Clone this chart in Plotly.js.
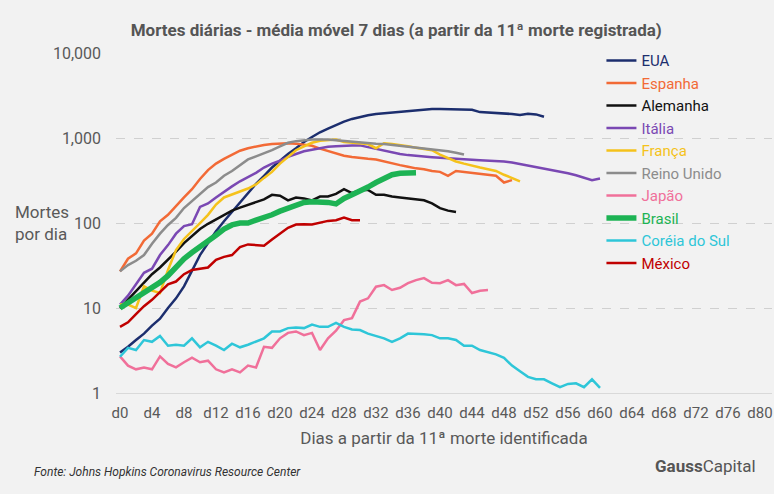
<!DOCTYPE html>
<html>
<head>
<meta charset="utf-8">
<script src="https://cdn.plot.ly/plotly-3.0.1.min.js"></script>
<style>
  html, body { margin: 0; padding: 0; background: #F2F2F2; }
  #chart { width: 774px; height: 494px; }
</style>
</head>
<body>
<div id="chart"></div>
<script>
// ---- Data (7-day moving average of daily deaths, from 11th death) ----
const tickDays = [0,4,8,12,16,20,24,28,32,36,40,44,48,52,56,60,64,68,72,76,80];
const tickLabels = ["d0","d4","d8","d12","d16","d20","d24","d28","d32","d36","d40","d44","d48","d52","d56","d60","d64","d68","d72","d76","d80"];

const eua = [3.0,3.5,4.2,5.0,6.2,7.5,10,13,18,27,42,58,80,105,135,178,230,290,360,450,540,650,760,900,1030,1170,1290,1420,1560,1680,1780,1860,1920,1960,2000,2030,2060,2120,2150,2200,2200,2180,2150,2150,2150,2020,2000,1980,1960,1920,1870,1930,1900,1780];
const espanha = [27,38,44,62,75,105,125,160,200,250,330,420,500,570,640,710,760,800,830,850,865,870,860,840,810,750,700,660,620,600,580,570,560,530,500,480,460,440,430,410,400,360,410,400,390,380,370,360,300,320];
const alemanha = [10,12.5,16,20,25,30,37,46,58,70,85,98,110,125,140,152,163,175,190,215,210,185,200,195,185,205,205,220,250,225,245,245,215,215,205,200,195,188,185,170,150,140,135];
const italia = [11,14,19,26,29,42,55,75,92,97,155,170,200,235,270,310,345,390,450,500,540,600,650,700,730,760,790,800,815,820,820,780,750,710,680,650,630,615,605,595,585,575,570,560,555,550,545,540,530,515,495,470,455,440,420,400,385,365,345,320,335];
const franca = [11,11,10,18,16,15,28,48,65,80,100,125,165,200,215,235,255,285,340,400,500,600,720,800,880,930,950,960,900,880,870,850,760,870,850,830,800,770,740,720,640,580,530,500,470,450,430,410,370,340,310];
const reinoUnido = [27,32,36,42,57,75,95,115,150,180,220,265,300,360,410,480,560,610,660,720,800,880,920,940,960,960,960,940,920,900,880,870,860,850,830,800,790,770,750,740,720,700,670,640];
const japao = [2.7,2.1,1.9,2.0,1.9,2.7,2.2,2.0,2.3,2.6,2.3,2.4,1.9,1.75,1.9,1.75,2.1,2.0,3.5,3.4,4.4,5.1,5.3,4.8,5.1,3.2,4.4,5.4,7.2,7.6,11.9,13,17.8,18.6,16.3,17.3,19.6,21.3,22.5,19.8,19.6,21.3,18.6,19.2,15,16,16.3];
const brasil = [10,11.5,13,15.5,17.5,20,24,31,38,45,52,60,72,85,95,100,100,108,115,125,138,148,160,175,178,178,175,168,195,215,235,265,300,340,370,385,390,390];
const coreia = [2.67,3.4,3.2,4.2,4.0,4.7,3.6,3.7,3.6,4.4,3.45,4.0,3.6,3.2,3.8,3.45,3.7,4.0,4.4,5.3,5.3,5.8,5.9,5.8,6.4,6.0,6.0,6.7,6.0,5.6,5.5,5.0,4.7,4.4,4.0,4.4,5.0,5.0,4.9,4.8,4.4,4.4,4.2,3.6,3.6,3.2,3.0,2.85,2.6,2.1,1.8,1.55,1.45,1.45,1.3,1.17,1.28,1.3,1.17,1.45,1.15];
const mexico = [6.0,6.8,8.5,10.5,12.5,15.5,19,20.5,25,28,29,30,37,40,42,52,56,55,54,64,75,88,96,97,96,100,106,108,116,108,108];

const seriesNames = ["EUA","Espanha","Alemanha","Itália","França","Reino Unido","Japão","Brasil","Coréia do Sul","México"];
const seriesData = [eua, espanha, alemanha, italia, franca, reinoUnido, japao, brasil, coreia, mexico];
const seriesColors = ["#1C2E6E","#F26A36","#111111","#7A48B3","#F5C21B","#8C8C8C","#F0709A","#1DB354","#2EC6D8","#C00000"];
const seriesWidths = [2.5,2.5,2.5,2.5,2.5,2.5,2.5,5.5,2.5,2.5];

const FONT = "Roboto, 'Noto Sans', sans-serif";
const TXT = "#595959";

const traces = seriesData.map((vals, k) => ({
  type: "scatter",
  mode: "lines",
  x: vals.map((_, i) => i),
  y: vals,
  name: '<span style="color:' + seriesColors[k] + '">' + seriesNames[k] + '</span>',
  line: { color: seriesColors[k], width: seriesWidths[k] },
  hoverinfo: "x+y+name"
}));

const layout = {
  width: 774,
  height: 494,
  paper_bgcolor: "#F2F2F2",
  plot_bgcolor: "#F2F2F2",
  margin: { l: 116, r: 2, t: 53, b: 101 },
  font: { family: FONT, color: TXT, size: 14 },
  title: {
    text: "<b>Mortes diárias - média móvel 7 dias (a partir da 11ª morte registrada)</b>",
    font: { family: FONT, size: 17, color: "#555555" },
    xref: "container", x: 0.512, xanchor: "center",
    yref: "container", y: 0.939, yanchor: "middle"
  },
  xaxis: {
    range: [-0.5, 81.5],
    tickmode: "array",
    tickvals: tickDays,
    ticktext: tickLabels,
    showgrid: false,
    zeroline: false,
    showline: true,
    linecolor: "#D9D9D9",
    linewidth: 1,
    ticks: "",
    ticklabelstandoff: 6,
    tickfont: { family: FONT, size: 15, color: TXT },
    title: {
      text: "Dias a partir da 11ª morte identificada",
      font: { family: FONT, size: 17, color: TXT },
      standoff: 11
    }
  },
  yaxis: {
    type: "log",
    range: [0, 4.001],
    tickmode: "array",
    tickvals: [1, 10, 100, 1000, 10000],
    ticktext: ["1", "10", "100", "1,000", "10,000"],
    showgrid: true,
    gridcolor: "#D0D0D0",
    griddash: "dash",
    gridwidth: 1,
    zeroline: false,
    showline: false,
    ticks: "",
    ticklabelstandoff: 14,
    tickfont: { family: FONT, size: 16, color: TXT }
  },
  legend: {
    x: 0.74, xanchor: "left",
    y: 1.026, yanchor: "top",
    bgcolor: "rgba(0,0,0,0)",
    font: { family: FONT, size: 15 },
    tracegroupgap: 0,
    itemwidth: 30
  },
  showlegend: true,
  annotations: [
    {
      xref: "paper", yref: "paper",
      x: (13 - 116) / 656, y: 0.5,
      xanchor: "left", yanchor: "middle", align: "left",
      text: "Mortes<br>por dia",
      showarrow: false,
      font: { family: FONT, size: 17, color: TXT }
    },
    {
      xref: "paper", yref: "paper",
      x: (32 - 116) / 656, y: (393 - 472) / 340,
      xanchor: "left", yanchor: "middle",
      text: "<i>Fonte: Johns Hopkins Coronavirus Resource Center</i>",
      showarrow: false,
      font: { family: FONT, size: 12, color: "#333333" }
    },
    {
      xref: "paper", yref: "paper",
      x: (758 - 116) / 656, y: (393 - 466) / 340,
      xanchor: "right", yanchor: "middle",
      text: "<b>Gauss</b>Capital",
      showarrow: false,
      font: { family: FONT, size: 17, color: "#555555" }
    }
  ]
};

Plotly.newPlot("chart", traces, layout, { displayModeBar: false, staticPlot: true });
</script>
</body>
</html>
